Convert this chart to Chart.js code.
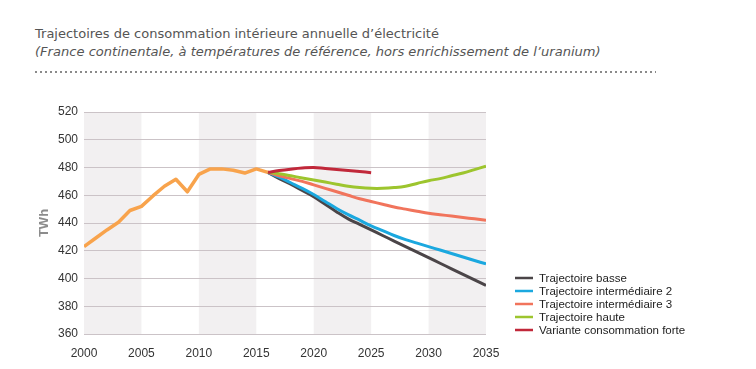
<!DOCTYPE html>
<html lang="fr">
<head>
<meta charset="UTF-8">
<title>Trajectoires de consommation</title>
<script src="https://cdn.jsdelivr.net/npm/chart.js@4.4.0/dist/chart.umd.min.js"></script>
<style>
    body { margin: 0; background: #fff; }
    #page { position: relative; width: 756px; height: 369px; overflow: hidden; }
    #titre, #soustitre {
        position: absolute; left: 35px; white-space: nowrap;
        font-family: "DejaVu Sans", Verdana, sans-serif; font-size: 12px; color: #555;
    }
    #titre { top: 26px; }
    #soustitre { top: 44px; font-style: italic; }
    #pointilles {
        position: absolute; left: 35px; top: 71px; width: 621px; height: 2px;
        background-image: linear-gradient(to right, #8a8a8a 40%, transparent 40%);
        background-size: 5px 2px;
    }
    #zone { position: absolute; left: 0; top: 0; width: 756px; height: 369px; }
</style>
</head>
<body>
<div id="page">
    <div id="titre">Trajectoires de consommation intérieure annuelle d’électricité</div>
    <div id="soustitre">(France continentale, à températures de référence, hors enrichissement de l’uranium)</div>
    <div id="pointilles"></div>
    <div id="zone"><canvas id="graphe"></canvas></div>
</div>

<script>
// historique
var anneesHisto = [2000, 2001, 2002, 2003, 2004, 2005, 2006, 2007, 2008, 2009, 2010, 2011, 2012, 2013, 2014, 2015, 2016];
var histo = [423, 429, 435, 440.5, 449, 452, 459.5, 466.5, 471.5, 462.5, 475, 479, 479, 478, 476, 479, 476.5];

// trajectoires 2016-2035
var anneesProj = [2016, 2017, 2018, 2019, 2020, 2021, 2022, 2023, 2024, 2025, 2026, 2027, 2028, 2029, 2030, 2031, 2032, 2033, 2034, 2035];
var basse  = [476.5, 472, 468, 463.5, 459, 453.5, 448, 443, 439, 435, 431, 427, 423, 419, 415, 411, 407, 403, 399, 395];
var inter2 = [476.5, 473, 469, 465, 460.5, 455.5, 450.5, 446, 442, 438, 434.5, 431, 428, 425.5, 423, 420.5, 418, 415.5, 413, 410.5];
var inter3 = [476.5, 474, 472, 470, 467.5, 465, 462.5, 460, 457.5, 455.5, 453.5, 451.5, 450, 448.5, 447, 446, 445, 444, 443, 442];
var haute  = [476.5, 475.5, 474, 472.5, 471, 469.5, 468, 466.5, 465.5, 465, 465, 465.5, 466.5, 468.5, 470.5, 472, 474, 476, 478.5, 481];
// variante jusqu'en 2025
var anneesForte = [2016, 2017, 2018, 2019, 2020, 2021, 2022, 2023, 2024, 2025];
var forte = [476.5, 477.8, 478.8, 479.6, 480, 479.3, 478.6, 477.9, 477.1, 476.3];

var ticksX = [2000, 2005, 2010, 2015, 2020, 2025, 2030, 2035];
var ticksY = [360, 380, 400, 420, 440, 460, 480, 500, 520];
var bandes = [[2000, 2005], [2010, 2015], [2020, 2025], [2030, 2035]];

// ajuste la taille du texte a la largeur du modele
function ajuste(id, largeur) {
    var el = document.getElementById(id);
    var w = el.getBoundingClientRect().width;
    el.style.fontSize = (12 * largeur / w).toFixed(2) + 'px';
}
ajuste('titre', 404);
ajuste('soustitre', 566);

function points(xs, ys) {
    return xs.map(function (x, i) { return { x: x, y: ys[i] }; });
}

// bandes grises derriere les courbes
var pluginBandes = {
    id: 'bandes',
    beforeDraw: function (chart) {
        var ctx = chart.ctx, a = chart.chartArea, sx = chart.scales.x;
        ctx.save();
        ctx.fillStyle = '#f2f0f1';
        bandes.forEach(function (b) {
            var x1 = sx.getPixelForValue(b[0]), x2 = sx.getPixelForValue(b[1]);
            ctx.fillRect(x1, a.top, x2 - x1, a.bottom - a.top);
        });
        ctx.restore();
    }
};

// legende dessinee a droite du graphe
var pluginLegende = {
    id: 'legendePerso',
    afterDraw: function (chart) {
        var ctx = chart.ctx;
        var x = chart.chartArea.right + 29, y = 278;
        ctx.save();
        ctx.font = '11.5px "Liberation Sans", Arial, sans-serif';
        ctx.textBaseline = 'middle';
        chart.data.datasets.forEach(function (ds) {
            if (ds.label === 'Historique') return;
            ctx.strokeStyle = ds.borderColor;
            ctx.lineWidth = 2.5;
            ctx.beginPath();
            ctx.moveTo(x, y);
            ctx.lineTo(x + 18, y);
            ctx.stroke();
            ctx.fillStyle = '#222';
            ctx.fillText(ds.label, x + 24, y + 0.5);
            y += 13;
        });
        ctx.restore();
    }
};

var ctx = document.getElementById('graphe').getContext('2d');
var chart = new Chart(ctx, {
    type: 'line',
    data: {
        datasets: [
            { label: 'Trajectoire basse', data: points(anneesProj, basse), borderColor: '#4b4548', borderWidth: 3, tension: 0.4, order: 5 },
            { label: 'Trajectoire intermédiaire 2', data: points(anneesProj, inter2), borderColor: '#1ba8df', borderWidth: 3, tension: 0.4, order: 4 },
            { label: 'Trajectoire intermédiaire 3', data: points(anneesProj, inter3), borderColor: '#f1745c', borderWidth: 3, tension: 0.4, order: 3 },
            { label: 'Trajectoire haute', data: points(anneesProj, haute), borderColor: '#9dc52e', borderWidth: 3, tension: 0.4, order: 2 },
            { label: 'Variante consommation forte', data: points(anneesForte, forte), borderColor: '#c1283a', borderWidth: 3, tension: 0.4, order: 1 },
            { label: 'Historique', data: points(anneesHisto, histo), borderColor: '#f8a34c', borderWidth: 3.5, tension: 0, order: 0 }
        ]
    },
    options: {
        responsive: true,
        maintainAspectRatio: false,
        animation: false,
        events: [],
        elements: { point: { radius: 0 }, line: { borderCapStyle: 'butt', borderJoinStyle: 'round' } },
        layout: { padding: { left: 33, right: 270, top: 112, bottom: 0 } },
        plugins: { legend: { display: false }, tooltip: { enabled: false } },
        scales: {
            x: {
                type: 'linear', min: 2000, max: 2035,
                afterFit: function (s) { s.height = 35; },
                afterBuildTicks: function (s) { s.ticks = ticksX.map(function (v) { return { value: v }; }); },
                grid: { display: false },
                border: { display: false },
                ticks: {
                    color: '#333', padding: 4, maxRotation: 0,
                    font: { family: '"Liberation Sans", Arial, sans-serif', size: 12 },
                    callback: function (v) { return String(v); }
                }
            },
            y: {
                min: 360, max: 520,
                afterFit: function (s) { s.width = 51; },
                afterBuildTicks: function (s) { s.ticks = ticksY.map(function (v) { return { value: v }; }); },
                grid: { color: '#cbc3c7', lineWidth: 1, drawTicks: false },
                border: { display: false },
                ticks: {
                    color: '#333', padding: 6,
                    font: { family: '"Liberation Sans", Arial, sans-serif', size: 12 }
                },
                title: {
                    display: true, text: 'TWh', color: '#8c8c8c',
                    font: { family: '"Liberation Sans", Arial, sans-serif', size: 13, weight: 'bold' },
                    padding: { top: 4, bottom: 0 }
                }
            }
        }
    },
    plugins: [pluginBandes, pluginLegende]
});
</script>
</body>
</html>
